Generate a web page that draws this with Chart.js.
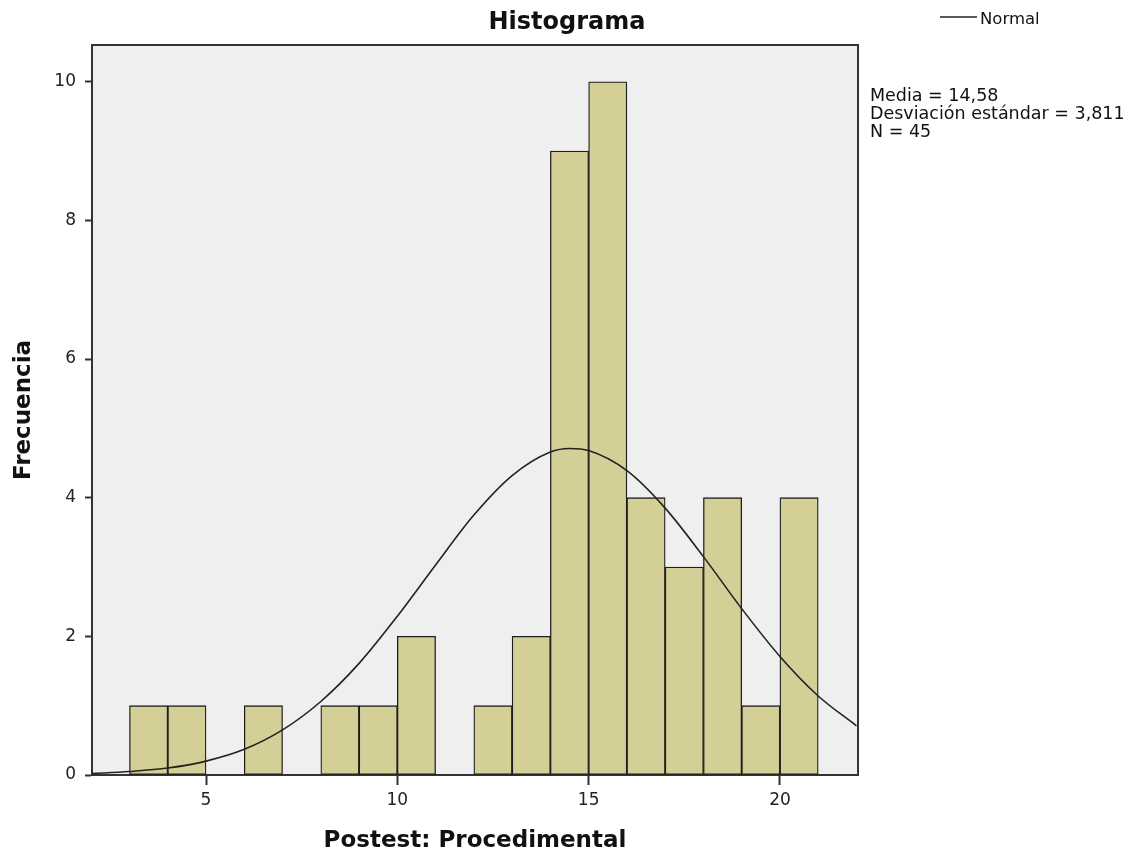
<!DOCTYPE html>
<html>
<head>
<meta charset="utf-8">
<script src="https://cdn.jsdelivr.net/npm/chart.js@4.4.0/dist/chart.umd.min.js"></script>
<style>
  html, body { margin: 0; padding: 0; background: #fff; }
  canvas { display: block; }
</style>
</head>
<body>
<canvas id="myChart" width="1133" height="855"></canvas>
<script>

// histogram bins (width 1)
var binStarts = [3, 4, 6, 8, 9, 10, 12, 13, 14, 15, 16, 17, 18, 19, 20];
var counts = [1, 1, 1, 1, 1, 2, 1, 2, 9, 10, 4, 3, 4, 1, 4];

// normal curve, estimated heights along x
var curveX = [2, 3, 4, 5, 6, 7, 8, 9, 10, 11, 12, 13, 14, 14.5, 15, 16, 17, 18, 19, 20, 21, 22];
var curveY = [0.02, 0.05, 0.10, 0.20, 0.37, 0.65, 1.06, 1.61, 2.29, 3.03, 3.75, 4.32, 4.66, 4.71, 4.68, 4.39, 3.85, 3.15, 2.40, 1.71, 1.14, 0.71];

var xTicks = [5, 10, 15, 20];
var yTicks = [0, 2, 4, 6, 8, 10];

var statLines = ['Media = 14,58', 'Desviación estándar = 3,811', 'N = 45'];
var chartTitle = 'Histograma';
var legendLabel = 'Normal';

Chart.defaults.font.family = "'DejaVu Sans', sans-serif";
Chart.defaults.color = '#222';

const frame = {
    id: 'frame',
    beforeDraw(chart) {
        const ctx = chart.ctx;
        const a = chart.chartArea;
        ctx.save();
        ctx.fillStyle = '#fff';
        ctx.fillRect(0, 0, chart.width, chart.height);
        ctx.fillStyle = '#efefef';
        ctx.fillRect(a.left, a.top, a.right - a.left, a.bottom - a.top);
        ctx.restore();
    },
    afterDraw(chart) {
        const ctx = chart.ctx;
        const a = chart.chartArea;
        ctx.save();

        // top and right edge of the plot box
        ctx.strokeStyle = '#333';
        ctx.lineWidth = 2;
        ctx.beginPath();
        ctx.moveTo(a.left, a.top);
        ctx.lineTo(a.right, a.top);
        ctx.lineTo(a.right, a.bottom);
        ctx.stroke();

        ctx.fillStyle = '#111';
        ctx.textBaseline = 'alphabetic';

        ctx.font = "bold 24px 'DejaVu Sans'";
        ctx.textAlign = 'center';
        ctx.fillText(chartTitle, 567, 29);

        // legend
        ctx.strokeStyle = '#222';
        ctx.lineWidth = 1.5;
        ctx.beginPath();
        ctx.moveTo(940, 17);
        ctx.lineTo(977, 17);
        ctx.stroke();
        ctx.font = "16.5px 'DejaVu Sans'";
        ctx.textAlign = 'left';
        ctx.fillText(legendLabel, 980, 24);

        ctx.font = "17.5px 'DejaVu Sans'";
        statLines.forEach((t, i) => {
            ctx.fillText(t, 870, 101 + i * 18);
        });

        ctx.restore();
    }
};

const data = {
    datasets: [
        {
            type: 'line',
            label: legendLabel,
            data: curveX.map((x, i) => ({ x: x, y: curveY[i] })),
            borderColor: '#222',
            borderWidth: 1.6,
            pointRadius: 0,
            fill: false,
            cubicInterpolationMode: 'monotone'
        },
        {
            type: 'bar',
            label: 'Frecuencia',
            data: binStarts.map((s, i) => ({ x: s + 0.5, y: counts[i] })),
            backgroundColor: '#d3cf96',
            borderColor: '#1e1e1e',
            borderWidth: 1.3,
            borderSkipped: false,
            barPercentage: 1,
            categoryPercentage: 1
        }
    ]
};

const config = {
    data,
    options: {
        responsive: false,
        animation: false,
        layout: { padding: { top: 45, right: 275, left: 0, bottom: 0 } },
        plugins: {
            legend: { display: false },
            title: { display: false },
            tooltip: { enabled: false }
        },
        scales: {
            x: {
                type: 'linear',
                min: 2.02,
                max: 22.04,
                offset: false,
                afterFit: s => { s.height = 80; },
                afterBuildTicks: s => { s.ticks = xTicks.map(v => ({ value: v })); },
                grid: { offset: false, drawOnChartArea: false, drawTicks: true, tickLength: 10, tickColor: '#333', tickWidth: 2 },
                border: { display: true, color: '#333', width: 2 },
                ticks: { padding: 5, font: { size: 17 }, color: '#222', maxRotation: 0 },
                title: {
                    display: true,
                    text: 'Postest: Procedimental',
                    font: { size: 23, weight: 'bold' },
                    color: '#111',
                    padding: { top: 0, bottom: 0 }
                }
            },
            y: {
                min: 0,
                max: 10.53,
                afterFit: s => { s.width = 92; },
                afterBuildTicks: s => { s.ticks = yTicks.map(v => ({ value: v })); },
                grid: { drawOnChartArea: false, drawTicks: true, tickLength: 7, tickColor: '#333', tickWidth: 2 },
                border: { display: true, color: '#333', width: 2 },
                ticks: { padding: 9, font: { size: 17 }, color: '#222' },
                title: {
                    display: true,
                    text: 'Frecuencia',
                    font: { size: 23, weight: 'bold' },
                    color: '#111',
                    padding: { top: 10, bottom: 0 }
                }
            }
        }
    },
    plugins: [frame]
};

var myChart = new Chart(document.getElementById('myChart'), config);
</script>
</body>
</html>
